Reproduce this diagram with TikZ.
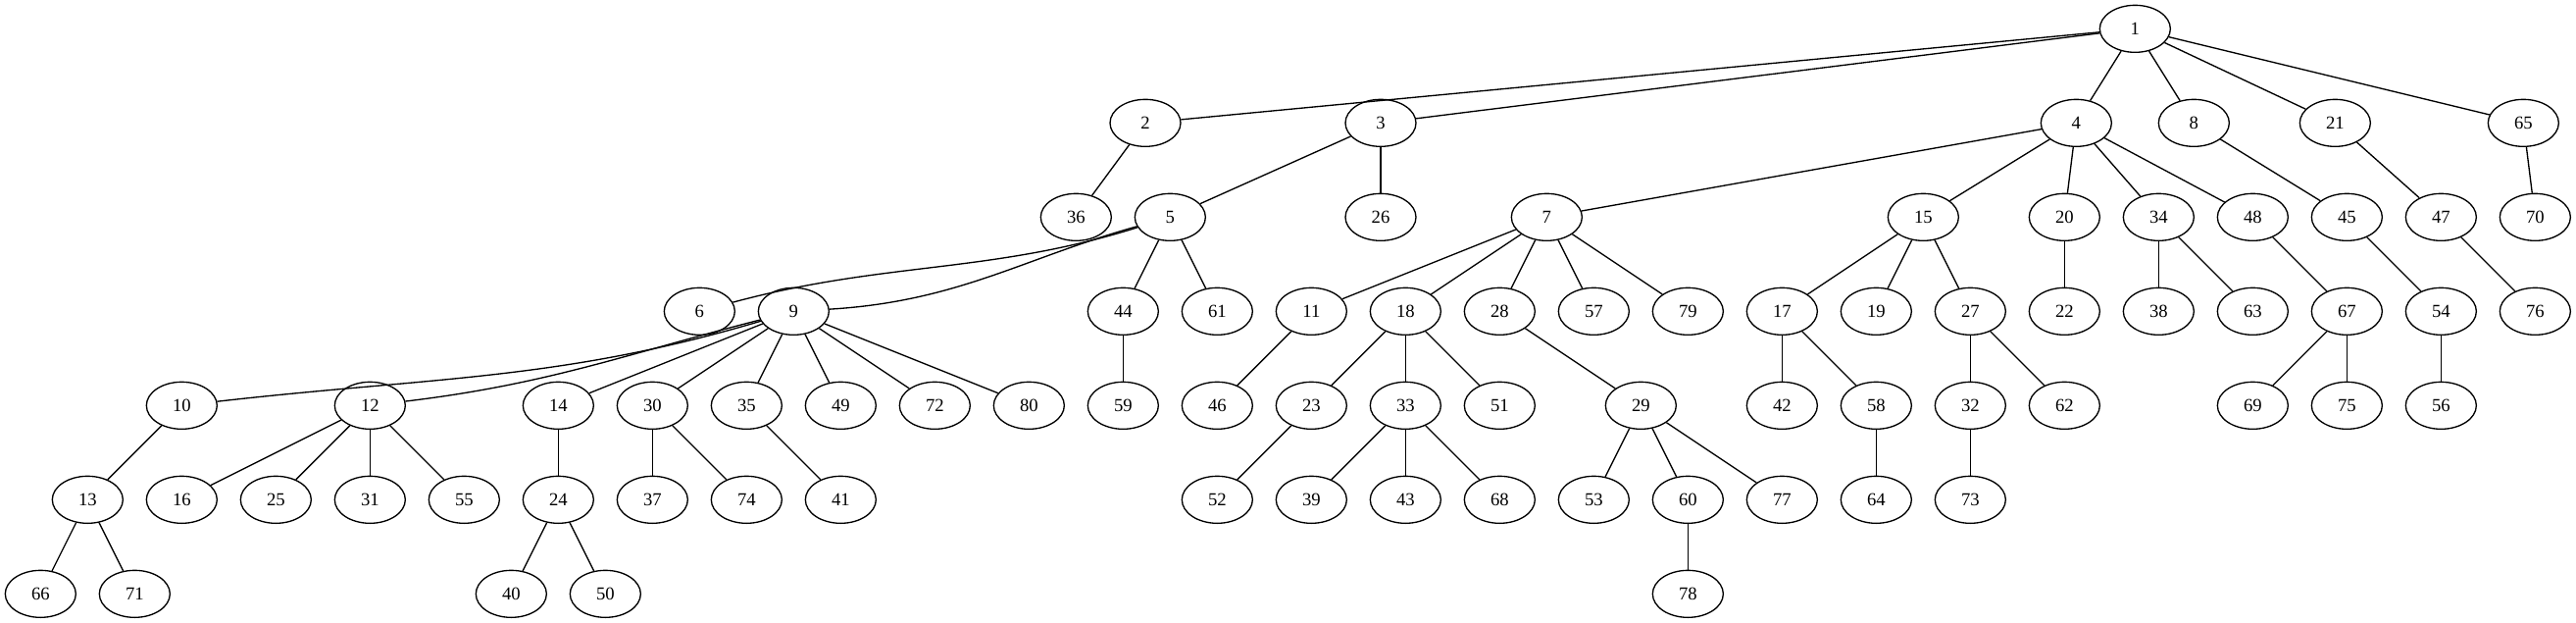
\documentclass[tikz,border=0pt]{standalone}
\usepackage{fontspec}
\setmainfont{Liberation Serif}
\usetikzlibrary{shapes.geometric}
\tikzset{
  vertex/.style={ellipse,draw,line width=1pt,minimum width=54pt,minimum height=36pt,inner sep=0pt,font=\fontsize{14pt}{16pt}\selectfont},
  link/.style={line width=1pt}
}
\begin{document}
\begin{tikzpicture}[x=1pt,y=1pt,yscale=-1,xscale=1]
			\useasboundingbox (0,0) rectangle (1970.25,476.25); %set diagram left start at 0
			
			% Rank 0
			\node [vertex] (n1) at (1633,22) {1};
			% Rank 1
			\node [vertex] (n2) at (876,94) {2};
			\node [vertex] (n3) at (1056,94) {3};
			\node [vertex] (n4) at (1588,94) {4};
			\node [vertex] (n8) at (1678,94) {8};
			\node [vertex] (n21) at (1786,94) {21};
			\node [vertex] (n65) at (1930,94) {65};
			% Rank 2
			\node [vertex] (n36) at (823,166) {36};
			\node [vertex] (n5) at (895,166) {5};
			\node [vertex] (n26) at (1056,166) {26};
			\node [vertex] (n7) at (1183,166) {7};
			\node [vertex] (n15) at (1471,166) {15};
			\node [vertex] (n20) at (1579,166) {20};
			\node [vertex] (n34) at (1651,166) {34};
			\node [vertex] (n48) at (1723,166) {48};
			\node [vertex] (n45) at (1795,166) {45};
			\node [vertex] (n47) at (1867,166) {47};
			\node [vertex] (n70) at (1939,166) {70};
			% Rank 3
			\node [vertex] (n6) at (535,238) {6};
			\node [vertex] (n9) at (607,238) {9};
			\node [vertex] (n44) at (859,238) {44};
			\node [vertex] (n61) at (931,238) {61};
			\node [vertex] (n11) at (1003,238) {11};
			\node [vertex] (n18) at (1075,238) {18};
			\node [vertex] (n28) at (1147,238) {28};
			\node [vertex] (n57) at (1219,238) {57};
			\node [vertex] (n79) at (1291,238) {79};
			\node [vertex] (n17) at (1363,238) {17};
			\node [vertex] (n19) at (1435,238) {19};
			\node [vertex] (n27) at (1507,238) {27};
			\node [vertex] (n22) at (1579,238) {22};
			\node [vertex] (n38) at (1651,238) {38};
			\node [vertex] (n63) at (1723,238) {63};
			\node [vertex] (n67) at (1795,238) {67};
			\node [vertex] (n54) at (1867,238) {54};
			\node [vertex] (n76) at (1939,238) {76};
			% Rank 4
			\node [vertex] (n10) at (139,310) {10};
			\node [vertex] (n12) at (283,310) {12};
			\node [vertex] (n14) at (427,310) {14};
			\node [vertex] (n30) at (499,310) {30};
			\node [vertex] (n35) at (571,310) {35};
			\node [vertex] (n49) at (643,310) {49};
			\node [vertex] (n72) at (715,310) {72};
			\node [vertex] (n80) at (787,310) {80};
			\node [vertex] (n59) at (859,310) {59};
			\node [vertex] (n46) at (931,310) {46};
			\node [vertex] (n23) at (1003,310) {23};
			\node [vertex] (n33) at (1075,310) {33};
			\node [vertex] (n51) at (1147,310) {51};
			\node [vertex] (n29) at (1255,310) {29};
			\node [vertex] (n42) at (1363,310) {42};
			\node [vertex] (n58) at (1435,310) {58};
			\node [vertex] (n32) at (1507,310) {32};
			\node [vertex] (n62) at (1579,310) {62};
			\node [vertex] (n69) at (1723,310) {69};
			\node [vertex] (n75) at (1795,310) {75};
			\node [vertex] (n56) at (1867,310) {56};
			% Rank 5
			\node [vertex] (n13) at (67,382) {13};
			\node [vertex] (n16) at (139,382) {16};
			\node [vertex] (n25) at (211,382) {25};
			\node [vertex] (n31) at (283,382) {31};
			\node [vertex] (n55) at (355,382) {55};
			\node [vertex] (n24) at (427,382) {24};
			\node [vertex] (n37) at (499,382) {37};
			\node [vertex] (n74) at (571,382) {74};
			\node [vertex] (n41) at (643,382) {41};
			\node [vertex] (n52) at (931,382) {52};
			\node [vertex] (n39) at (1003,382) {39};
			\node [vertex] (n43) at (1075,382) {43};
			\node [vertex] (n68) at (1147,382) {68};
			\node [vertex] (n53) at (1219,382) {53};
			\node [vertex] (n60) at (1291,382) {60};
			\node [vertex] (n77) at (1363,382) {77};
			\node [vertex] (n64) at (1435,382) {64};
			\node [vertex] (n73) at (1507,382) {73};
			% Rank 6
			\node [vertex] (n66) at (31,454) {66};
			\node [vertex] (n71) at (103,454) {71};
			\node [vertex] (n40) at (391,454) {40};
			\node [vertex] (n50) at (463,454) {50};
			\node [vertex] (n78) at (1291,454) {78};
			
			%Straight Lines from 1
			\draw [link] (n1) -- (n2);
			\draw [link] (n1) -- (n3);
			\draw [link] (n1) -- (n4);
			\draw [link] (n1) -- (n8);
			\draw [link] (n1) -- (n21);
			\draw [link] (n1) -- (n65);
			%Straight Lines from rank 1
			\draw [link] (n2) -- (n36);
			\draw [link] (n3) -- (n5);
			\draw [link] (n3) -- (n26);
			\draw [link] (n4) -- (n7);
			\draw [link] (n4) -- (n15);
			\draw [link] (n4) -- (n20);
			\draw [link] (n4) -- (n34);
			\draw [link] (n4) -- (n48);
			\draw [link] (n8) -- (n45);
			\draw [link] (n21) -- (n47);
			\draw [link] (n65) -- (n70);
			%Curves and Lines from rank 2 (angles flipped by yscale=-1)
			\draw [link] (n5) to[out=155,in=-22] (n6);
			\draw [link] (n5) to[out=155,in=-6] (n9);
			\draw [link] (n5) -- (n44);
			\draw [link] (n5) -- (n61);
			\draw [link] (n7) -- (n11);
			\draw [link] (n7) -- (n18);
			\draw [link] (n7) -- (n28);
			\draw [link] (n7) -- (n57);
			\draw [link] (n7) -- (n79);
			\draw [link] (n15) -- (n17);
			\draw [link] (n15) -- (n19);
			\draw [link] (n15) -- (n27);
			\draw [link] (n20) -- (n22);
			\draw [link] (n34) -- (n38);
			\draw [link] (n34) -- (n63);
			\draw [link] (n48) -- (n67);
			\draw [link] (n45) -- (n54);
			\draw [link] (n47) -- (n76);
			%Curves and Lines from rank 3
			\draw [link] (n9) to[out=158,in=-9] (n10);
			\draw [link] (n9) to[out=158,in=-11] (n12);
			\draw [link] (n9) -- (n14);
			\draw [link] (n9) -- (n30);
			\draw [link] (n9) -- (n35);
			\draw [link] (n9) -- (n49);
			\draw [link] (n9) -- (n72);
			\draw [link] (n9) -- (n80);
			\draw [link] (n44) -- (n59);
			\draw [link] (n11) -- (n46);
			\draw [link] (n18) -- (n23);
			\draw [link] (n18) -- (n33);
			\draw [link] (n18) -- (n51);
			\draw [link] (n28) -- (n29);
			\draw [link] (n17) -- (n42);
			\draw [link] (n17) -- (n58);
			\draw [link] (n27) -- (n32);
			\draw [link] (n27) -- (n62);
			\draw [link] (n67) -- (n69);
			\draw [link] (n67) -- (n75);
			\draw [link] (n54) -- (n56);
			%Straight Lines from rank 4
			\draw [link] (n10) -- (n13);
			\draw [link] (n12) -- (n16);
			\draw [link] (n12) -- (n25);
			\draw [link] (n12) -- (n31);
			\draw [link] (n12) -- (n55);
			\draw [link] (n14) -- (n24);
			\draw [link] (n30) -- (n37);
			\draw [link] (n30) -- (n74);
			\draw [link] (n35) -- (n41);
			\draw [link] (n23) -- (n52);
			\draw [link] (n33) -- (n39);
			\draw [link] (n33) -- (n43);
			\draw [link] (n33) -- (n68);
			\draw [link] (n29) -- (n53);
			\draw [link] (n29) -- (n60);
			\draw [link] (n29) -- (n77);
			\draw [link] (n58) -- (n64);
			\draw [link] (n32) -- (n73);
			%Straight Lines from rank 5
			\draw [link] (n13) -- (n66);
			\draw [link] (n13) -- (n71);
			\draw [link] (n24) -- (n40);
			\draw [link] (n24) -- (n50);
			\draw [link] (n60) -- (n78);
			
		\end{tikzpicture}
\end{document}
